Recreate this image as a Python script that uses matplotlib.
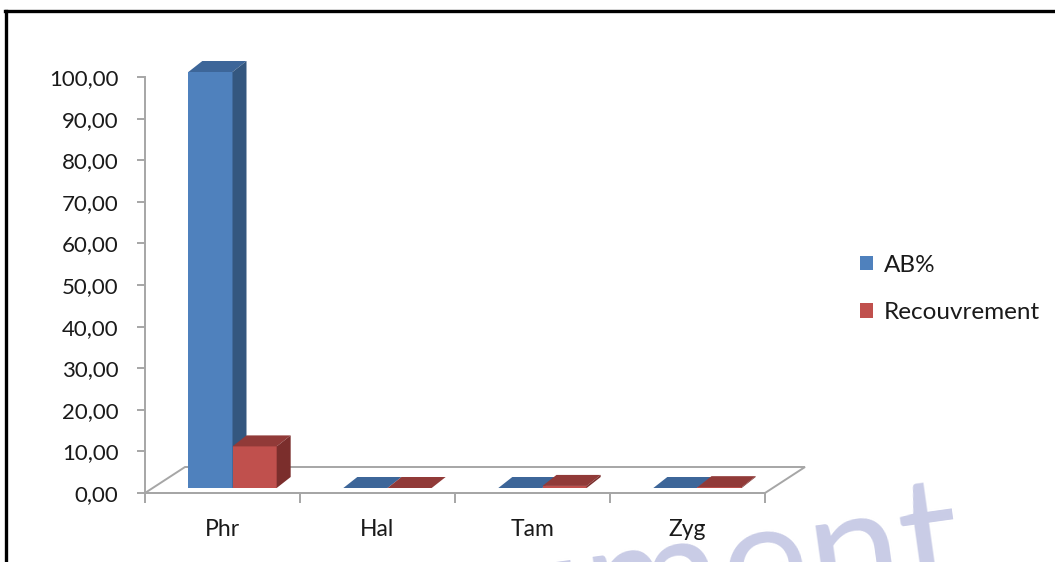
import matplotlib
matplotlib.use("Agg")
import matplotlib.pyplot as plt
from matplotlib.patches import Polygon, Patch
from matplotlib.lines import Line2D
from matplotlib.ticker import FuncFormatter, FixedLocator

plt.rcParams["font.family"] = ["Lato", "DejaVu Sans"]

categories = ["Phr", "Hal", "Tam", "Zyg"]
ab_pct = [100.0, 0.0, 0.0, 0.0]
recouvrement = [10.0, 0.0, 0.5, 0.2]
series = [("AB%", ab_pct), ("Recouvrement", recouvrement)]

# couleurs : face avant, dessus, côté
colors = {
    "AB%": ("#4f81bd", "#3d6699", "#34577f"),
    "Recouvrement": ("#c0504d", "#913a38", "#7b2e2c"),
}

W, H = 1055, 562
fig = plt.figure(figsize=(W / 100, H / 100), dpi=100)
fig.patch.set_facecolor("white")

# axe : x de -0.5 à 3.5 sur 145..765 px, y de 0 à 100 sur 493..77 px
ax_l, ax_r, ax_b, ax_t = 145, 765, 493, 77
ax = fig.add_axes([ax_l / W, (H - ax_b) / H, (ax_r - ax_l) / W, (ax_b - ax_t) / H])
ax.set_xlim(-0.5, 3.5)
ax.set_ylim(0, 100)
ax.set_facecolor("none")

px_x = 1.0 / ((ax_r - ax_l) / 4.0)   # unités de données par pixel (x)
px_y = 100.0 / (ax_b - ax_t)         # unités de données par pixel (y)

# sol en perspective
floor_dx, floor_dy = 40 * px_x, 26 * px_y
floor = Polygon([(-0.5, 0), (3.5, 0), (3.5 + floor_dx, floor_dy), (-0.5 + floor_dx, floor_dy)],
                closed=True, facecolor="white", edgecolor="#a6a6a6", lw=1.4,
                clip_on=False, zorder=1)
ax.add_patch(floor)

# barres 3D : face avant via ax.bar, dessus et côté en polygones
bar_w = 0.285
lift_x, lift_y = 10 * px_x, 5 * px_y
depth_x, depth_y = 14 * px_x, 11 * px_y
z = 3
for i in range(len(categories)):
    for j, (name, vals) in enumerate(series):
        front, top, side = colors[name]
        v = vals[i]
        x0 = i - bar_w + j * bar_w + lift_x
        x1 = x0 + bar_w
        y0 = lift_y
        y1 = lift_y + v
        if v > 0:
            ax.bar(x0, v, width=bar_w, bottom=y0, align="edge", color=front,
                   lw=0, clip_on=False, zorder=z)
        ax.add_patch(Polygon([(x0, y1), (x1, y1), (x1 + depth_x, y1 + depth_y),
                              (x0 + depth_x, y1 + depth_y)], closed=True,
                             facecolor=top, lw=0, clip_on=False, zorder=z))
        if v > 0:
            ax.add_patch(Polygon([(x1, y0), (x1 + depth_x, y0 + depth_y),
                                  (x1 + depth_x, y1 + depth_y), (x1, y1)], closed=True,
                                 facecolor=side, lw=0, clip_on=False, zorder=z))
        z += 1

# axes et graduations
for s in ["top", "right"]:
    ax.spines[s].set_visible(False)
for s in ["left", "bottom"]:
    ax.spines[s].set_color("#a6a6a6")
    ax.spines[s].set_linewidth(1.4)
    ax.spines[s].set_zorder(2)

ax.set_yticks(range(0, 101, 10))
ax.yaxis.set_major_formatter(FuncFormatter(lambda v, _: f"{v:.2f}".replace(".", ",")))
ax.tick_params(axis="y", length=6, width=1.4, color="#a6a6a6", pad=13,
               labelsize=16, labelcolor="#1a1a1a")

ax.set_xticks(range(len(categories)))
ax.set_xticklabels(categories)
ax.xaxis.set_minor_locator(FixedLocator([-0.5, 0.5, 1.5, 2.5, 3.5]))
ax.tick_params(axis="x", which="major", length=0, pad=19, labelsize=16.5, labelcolor="#1a1a1a")
ax.tick_params(axis="x", which="minor", length=7, width=1.4, color="#a6a6a6")

# légende
handles = [Patch(facecolor=colors[n][0], edgecolor="none") for n, _ in series]
fig.legend(handles, [n for n, _ in series], loc="center left",
           bbox_to_anchor=(838 / W, 1 - 289 / H), frameon=False, fontsize=17.5,
           handlelength=0.55, handleheight=0.55, handletextpad=0.45,
           labelspacing=1.1, labelcolor="#1a1a1a")

# filigrane
fig.text(0.69, -0.215, "ument", fontsize=120, color="#c9cce6", rotation=8,
         ha="center", va="bottom", zorder=0)

# cadre noir
fig.add_artist(Line2D([5 / W, 1], [1 - 11 / H, 1 - 11 / H], color="black", lw=2.4))
fig.add_artist(Line2D([6 / W, 6 / W], [0, 1 - 11 / H], color="black", lw=2.4))

fig.savefig("out.png", dpi=100)
